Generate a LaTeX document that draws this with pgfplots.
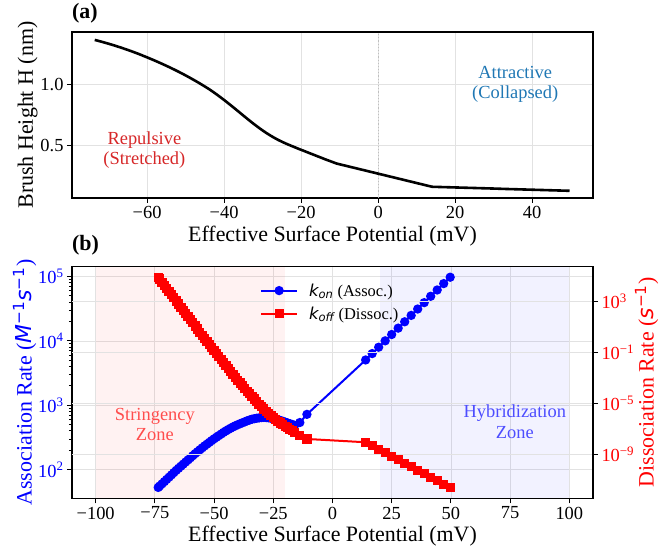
\documentclass[border=0pt]{standalone}
\usepackage{pgfplots}
\pgfplotsset{compat=1.18}
\usepackage{fontspec}
\setmainfont{Liberation Serif}
\newfontfamily\dejavu{DejaVu Sans}
\definecolor{gridc}{RGB}{226,226,226}
\definecolor{tabred}{HTML}{D62728}
\definecolor{tabblue}{HTML}{1F77B4}
\definecolor{zonered}{RGB}{255,77,77}
\definecolor{zoneblue}{RGB}{77,77,255}
\newcommand{\tickfont}{\fontsize{18.5}{20}\selectfont}
\newcommand{\labfont}{\fontsize{22}{25}\selectfont}
\newcommand{\annfont}{\fontsize{18.5}{20.5}\selectfont}
\pgfplotsset{
  common/.style={
    scale only axis, anchor=south west,
    axis line style={line width=1.2bp},
    tick style={black, line width=1bp},
    tick align=outside, major tick length=5bp, minor tick length=3bp,
    major grid style={gridc, line width=0.8bp},
    ticklabel style={font=\tickfont},
    label style={font=\labfont},
  }
}
\begin{document}
\begin{tikzpicture}
% ---------- (a)
\begin{axis}[common,
  at={(72bp,352bp)}, width=521bp, height=166bp,
  xmin=-79.5, xmax=55.8, ymin=0.066, ymax=1.427,
  xtick={-60,-40,-20,0,20,40}, xticklabels={−60,−40,−20,0,20,40},
  ytick={0.5,1.0}, yticklabels={0.5,1.0},
  xtick pos=left, ytick pos=left, grid=major,
  xlabel={Effective Surface Potential (mV)},
  ylabel={Brush Height H (nm)}, ylabel shift=-4bp,
]
\addplot[gray!50, dotted, line width=1.2bp, forget plot] coordinates {(0,0.066) (0,1.427)};
\addplot[black, line width=2.6bp, no markers] coordinates {
(-73.6,1.362) (-73,1.3571) (-72,1.3487) (-71,1.3400) (-70,1.3308) (-69,1.3214)
(-68,1.3115) (-67,1.3013) (-66,1.2907) (-65,1.2797) (-64,1.2684) (-63,1.2568)
(-62,1.2447) (-61,1.2318) (-60,1.2190) (-59,1.2059) (-58,1.1924) (-57,1.1786)
(-56,1.1644) (-55,1.1499) (-54,1.1350) (-53,1.1198) (-52,1.1041) (-51,1.0878)
(-50,1.0711) (-49,1.0539) (-48,1.0362) (-47,1.0181) (-46,0.9994) (-45,0.9802)
(-44,0.9606) (-43,0.9391) (-42,0.9167) (-41,0.8935) (-40,0.8695) (-39,0.8448)
(-38,0.8195) (-37,0.7938) (-36,0.7678) (-35,0.7418) (-34,0.7160) (-33,0.6907)
(-32,0.6661) (-31,0.6424) (-30,0.6198) (-29,0.5985) (-28,0.5786) (-27,0.5601)
(-26,0.5429) (-25,0.5274) (-24,0.5130) (-23,0.4995) (-22,0.4865) (-21,0.4737)
(-20,0.4611) (-19,0.4486) (-18,0.4361) (-17,0.4237) (-16,0.4113)
(-13.8,0.3840) (-10.8,0.3486)
(14,0.158) (16.75,0.1555) (19.49,0.153) (22.24,0.1505) (24.98,0.148)
(27.73,0.1455) (30.48,0.143) (33.22,0.140) (35.97,0.1375) (38.72,0.135)
(41.46,0.1325) (44.21,0.130) (46.95,0.1275) (49.7,0.125)};
\node[tabred, font=\annfont, align=center] at (axis cs:-60.7,0.46) {Repulsive\\(Stretched)};
\node[tabblue, font=\annfont, align=center] at (axis cs:35.6,1.0) {Attractive\\(Collapsed)};
\end{axis}
\node[anchor=base west, inner sep=0pt, font=\bfseries\labfont] at (72bp,531bp) {(a)};
% ---------- (b) left axis
\begin{axis}[common,
  at={(72bp,51.7bp)}, width=521bp, height=231.6bp,
  xmin=-110, xmax=110, ymode=log, ymin=36.0, ymax=1.424e5,
  xtick={-100,-75,-50,-25,0,25,50,75,100},
  xticklabels={−100,−75,−50,−25,0,25,50,75,100},
  ytick={1e2,1e3,1e4,1e5},
  yticklabels={10\textsuperscript{2},10\textsuperscript{3},10\textsuperscript{4},10\textsuperscript{5}},
  yticklabel style={blue},
  xtick pos=left, ytick pos=left, grid=major,
  xlabel={Effective Surface Potential (mV)},
  ylabel={Association Rate ({\dejavu\itshape M}\textsuperscript{\dejavu −1}{\dejavu\itshape s}\textsuperscript{\dejavu −1})},
  ylabel style={blue}, ylabel shift=-5bp,
  legend style={at={(0.355,0.945)}, anchor=north west, draw=none, fill=none,
    font=\fontsize{16.5}{18}\selectfont, row sep=5bp, column sep=9bp},
  legend cell align=left,
  legend image code/.code={\draw[#1, mark repeat=2, mark phase=2] plot coordinates {(0bp,0bp) (18bp,0bp) (36bp,0bp)};},
]
\fill[red, fill opacity=0.05] (axis cs:-100,36.0) rectangle (axis cs:-20,1.424e5);
\fill[blue, fill opacity=0.05] (axis cs:20,36.0) rectangle (axis cs:100,1.424e5);
\addplot[blue, line width=2bp, mark=*, mark size=3.6bp, mark options={solid}] coordinates {
(-73.6,53.09) (-73,55.7) (-72,60.26) (-71,65.31) (-70,70.79) (-69,76.74)
(-68,83.18) (-67,90.16) (-66,97.72) (-65,105.3) (-64,113.5) (-63,122.3)
(-62,131.8) (-61,142.1) (-60,153.1) (-59,165.0) (-58,177.8) (-57,190.5)
(-56,204.2) (-55,218.8) (-54,234.4) (-53,249.7) (-52,266.1) (-51,283.5)
(-50,302.0) (-49,319.9) (-48,338.8) (-47,358.9) (-46,380.2) (-45,400.5)
(-44,421.7) (-43,441.6) (-42,462.4) (-41,481.4) (-40,501.2) (-39,518.8)
(-38,537.0) (-37,555.9) (-36,575.4) (-35,592.2) (-34,609.5) (-33,620.2)
(-32,631.0) (-31,638.3) (-30,645.7) (-29,648.6) (-28,645.7) (-27,639.7)
(-26,631.0) (-25,620.9) (-24,609.5) (-23,595.7) (-22,582.1) (-21,565.6)
(-20,549.5) (-19,533.9) (-18,518.8) (-17,504.2) (-16,489.8)
(-13.8,540.8) (-10.8,724.4)
(14,5070) (16.75,6368) (19.49,7998) (22.24,10046) (24.98,12589)
(27.73,15812) (30.48,19861) (33.22,24946) (35.97,31333) (38.72,39355)
(41.46,49431) (44.21,61944) (46.95,77804) (49.7,97724)};
\addlegendentry{{\dejavu\itshape k\textsubscript{on}} (Assoc.)}
\addlegendimage{red, line width=2bp, mark=square*, mark size=3.6bp}
\addlegendentry{{\dejavu\itshape k\textsubscript{off}} (Dissoc.)}
\node[zonered, font=\annfont, align=center] at (axis cs:-75,500) {Stringency\\Zone};
\node[zoneblue, font=\annfont, align=center] at (axis cs:77,560) {Hybridization\\Zone};
\end{axis}
% ---------- (b) right axis
\begin{axis}[common,
  at={(72bp,51.7bp)}, width=521bp, height=231.6bp,
  xmin=-110, xmax=110, ymode=log, ymin=3.75e-13, ymax=5.57e5,
  axis x line=none, axis y line*=right,
  ytick={1e3,1e-1,1e-5,1e-9},
  yticklabels={10\textsuperscript{3},10\textsuperscript{−1},10\textsuperscript{−5},10\textsuperscript{−9}},
  yticklabel style={red}, yminorticks=false,
  ymajorgrids=true,
  ylabel={Dissociation Rate ({\dejavu\itshape s}\textsuperscript{\dejavu −1})},
  ylabel style={red}, ylabel shift=-6bp,
]
\addplot[red, line width=2bp, mark=square*, mark size=3.6bp] coordinates {
(-73.6,8.318e4) (-73,5.929e4) (-72,3.373e4) (-71,1.919e4) (-70,1.091e4) (-69,6.209e3)
(-68,3.532e3) (-67,2.009e3) (-66,1.143e3) (-65,650.1) (-64,369.8) (-63,210.4)
(-62,119.7) (-61,68.08) (-60,38.73) (-59,22.03) (-58,12.53) (-57,7.129)
(-56,4.055) (-55,2.312) (-54,1.318) (-53,0.7534) (-52,0.4315) (-51,0.2477)
(-50,0.1426) (-49,8.222e-2) (-48,4.764e-2) (-47,2.767e-2) (-46,1.614e-2) (-45,9.462e-3)
(-44,5.572e-3) (-43,3.296e-3) (-42,1.959e-3) (-41,1.169e-3) (-40,7.015e-4) (-39,4.227e-4)
(-38,2.559e-4) (-37,1.556e-4) (-36,9.528e-5) (-35,5.875e-5) (-34,3.648e-5) (-33,2.280e-5)
(-32,1.435e-5) (-31,9.120e-6) (-30,5.848e-6) (-29,3.819e-6) (-28,2.535e-6) (-27,1.710e-6)
(-26,1.172e-6) (-25,8.166e-7) (-24,5.781e-7) (-23,4.150e-7) (-22,3.020e-7) (-21,2.228e-7)
(-20,1.663e-7) (-19,1.256e-7) (-18,9.594e-8) (-17,7.396e-8) (-16,5.754e-8)
(-13.8,3.388e-8) (-10.8,1.698e-8)
(14,9.333e-9) (16.75,5.012e-9) (19.49,2.630e-9) (22.24,1.413e-9) (24.98,7.413e-10)
(27.73,3.981e-10) (30.48,2.089e-10) (33.22,1.122e-10) (35.97,5.888e-11) (38.72,3.162e-11)
(41.46,1.660e-11) (44.21,8.913e-12) (46.95,4.677e-12) (49.7,2.512e-12)};
\end{axis}
\node[anchor=base west, inner sep=0pt, font=\bfseries\labfont] at (72bp,299bp) {(b)};
\pgfresetboundingbox
\useasboundingbox (0,0) rectangle (661bp,550bp);
\end{tikzpicture}
\end{document}
